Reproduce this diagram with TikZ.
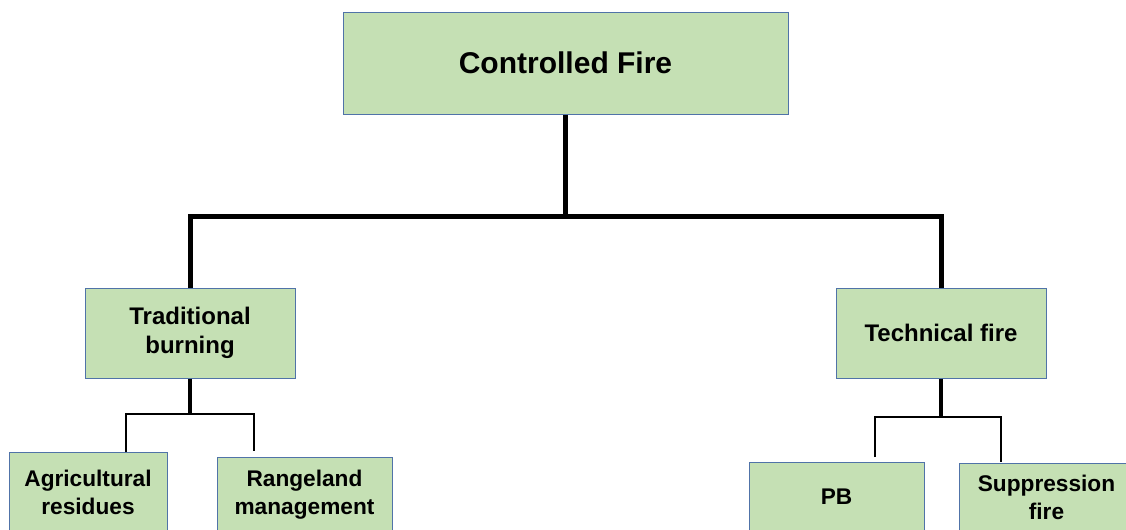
\documentclass[tikz,border=0pt]{standalone}
\usepackage{fontspec}
\setmainfont{Liberation Sans}
\usepackage{xcolor}
\definecolor{inkK}{HTML}{000000}
\definecolor{boxFill}{HTML}{C5E0B4}
\definecolor{boxLine}{HTML}{5073A8}

\begin{document}
\begin{tikzpicture}[x=0.75pt, y=-0.75pt,
  rootbox/.style={draw=boxLine, fill=boxFill, line width=0.75pt,
        align=center, inner sep=0pt, text=inkK,
        font=\bfseries\fontsize{22.5}{27}\selectfont},
  midbox/.style={rootbox, minimum width=157.5pt, minimum height=67.5pt,
        font=\bfseries\fontsize{18}{22}\selectfont},
  leafbox/.style={rootbox, minimum width=131.25pt,
        font=\bfseries\fontsize{17}{21}\selectfont},
  trunk/.style={draw=inkK, line width=3.75pt},
  stem/.style={draw=inkK, line width=3pt},
  branch/.style={draw=inkK, line width=2pt}]
  \useasboundingbox (0,0) rectangle (1126,529);
  \clip (0,0) rectangle (1126,529);

  % top level
  \node[rootbox, minimum width=333.75pt, minimum height=76.5pt]
    (root) at (565.5,63) {Controlled Fire};

  % second level
  \node[midbox] (trad) at (190,333) {Traditional\\burning};
  \node[midbox] (tech) at (941,333) {Technical fire};

  % leaves (cut off by the page edge)
  \node[leafbox, minimum width=118.5pt, minimum height=60pt]
    (agri) at (88,492) {Agricultural\\residues};
  \node[leafbox, minimum height=56.25pt]
    (range) at (304.5,494.5) {Rangeland\\management};
  \node[leafbox, minimum height=52.5pt] (pb) at (836.5,497) {PB};
  \node[leafbox, minimum height=51.75pt]
    (supp) at (1046.5,497.5) {Suppression\\fire};

  % connectors
  \coordinate (rootjoin) at (565.5,216);
  \draw[trunk] (root.south) -- (rootjoin) -| (trad.north);
  \draw[trunk] (rootjoin) -| (tech.north);

  \coordinate (tradjoin) at (190,414);
  \coordinate (agriin) at (126,452);
  \coordinate (rangein) at (254,451);
  \draw[stem] (trad.south) -- (tradjoin);
  \draw[branch] (agriin) |- (tradjoin) -| (rangein);

  \coordinate (techjoin) at (941,417);
  \coordinate (pbin) at (875,457);
  \coordinate (suppin) at (1001,462);
  \draw[stem] (tech.south) -- (techjoin);
  \draw[branch] (pbin) |- (techjoin) -| (suppin);
\end{tikzpicture}
\end{document}
